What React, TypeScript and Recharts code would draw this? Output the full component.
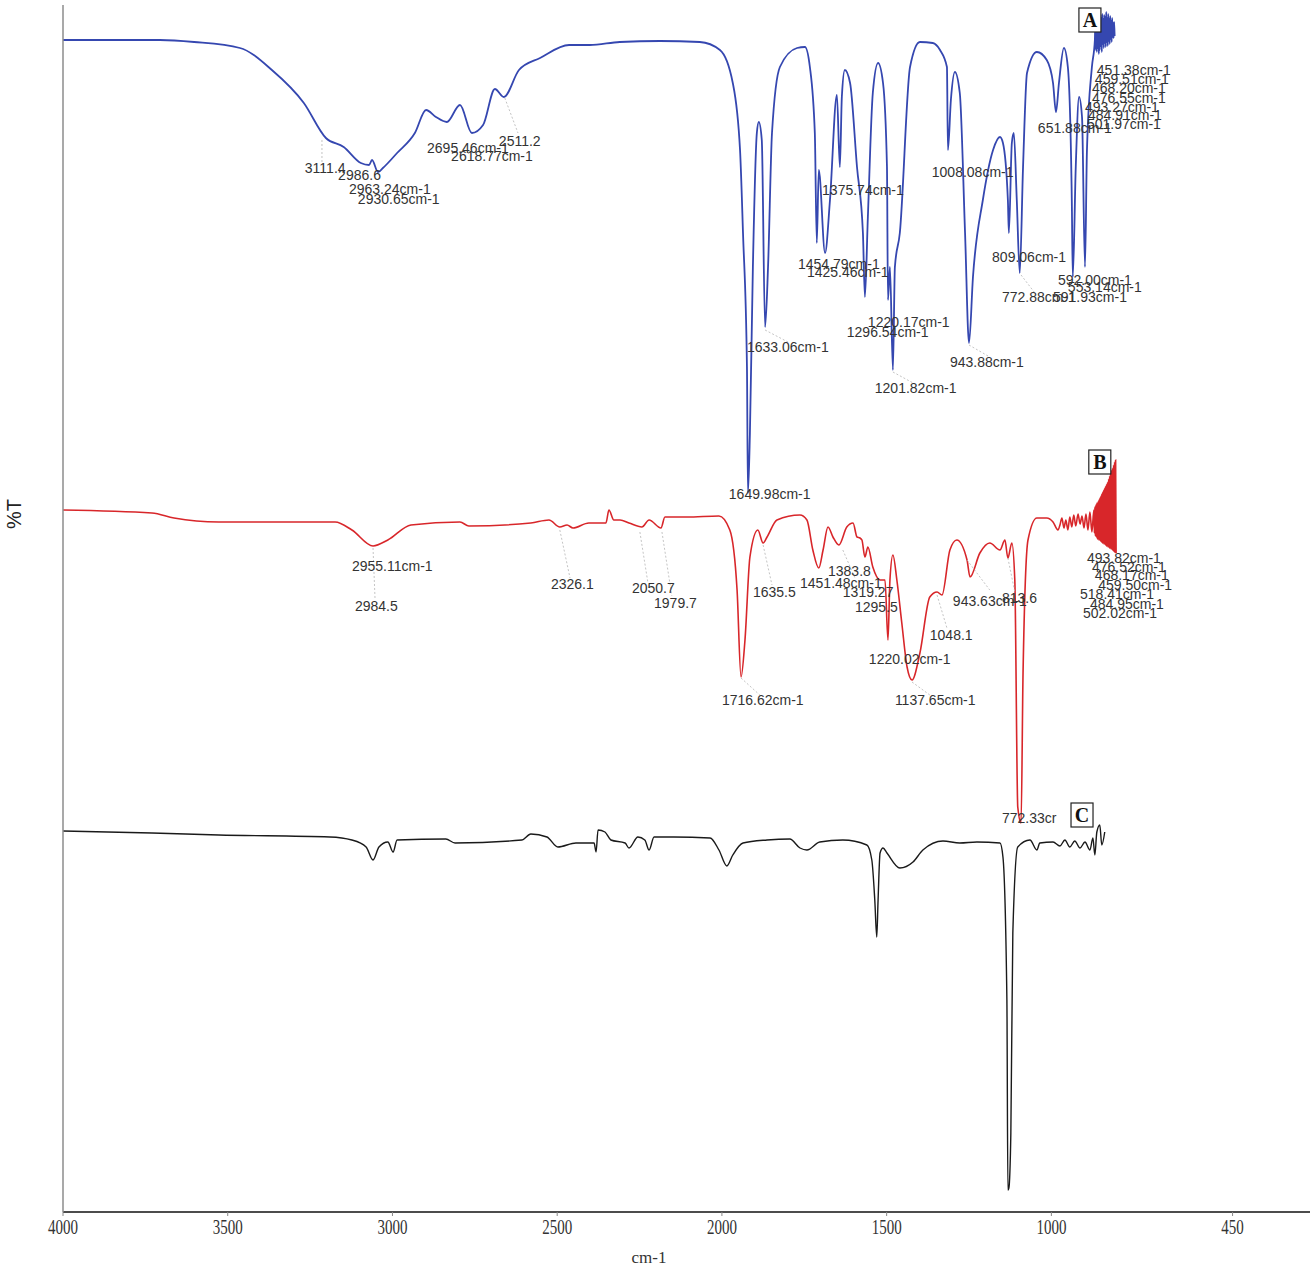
import {
  LineChart,
  Line,
  XAxis,
  YAxis,
  ReferenceDot,
  ReferenceLine,
} from "recharts";

// FTIR spectra: [wavenumber (cm-1), %T with a per-trace offset]
const spectrumA: [number, number][] = [
  [4000, 117.2], [3827, 117.2], [3706, 117.2], [3602, 117.0], [3463, 116.4],
  [3366, 114.2], [3269, 110.9], [3202, 107.4], [3148, 106.5], [3096, 104.9],
  [3071, 104.7], [3062, 105.2], [3044, 104.0], [3029, 104.4], [2986, 105.9],
  [2932, 107.9], [2898, 110.2], [2868, 109.5], [2835, 109.0], [2795, 110.7],
  [2759, 107.9], [2725, 108.7], [2689, 112.3], [2662, 111.5], [2616, 114.2],
  [2552, 115.4], [2464, 116.7], [2401, 116.7], [2310, 117.0], [2188, 117.1],
  [2067, 117.0], [2006, 116.2], [1967, 112.9], [1945, 106.2], [1936, 97.9],
  [1924, 84.5], [1921, 71.9], [1915, 77.9], [1906, 94.5], [1894, 107.9],
  [1888, 109.0], [1879, 107.2], [1869, 88.5], [1860, 94.5], [1848, 107.9],
  [1824, 114.5], [1772, 116.4], [1748, 116.5], [1733, 114.5], [1718, 107.9],
  [1712, 96.9], [1706, 104.2], [1687, 95.9], [1672, 101.2], [1651, 111.7],
  [1642, 104.5], [1636, 111.5], [1627, 114.2], [1611, 112.9], [1590, 104.5],
  [1572, 97.9], [1566, 91.5], [1557, 99.5], [1542, 111.9], [1526, 114.9],
  [1511, 112.9], [1499, 104.5], [1496, 91.2], [1490, 94.5], [1481, 84.2],
  [1475, 94.5], [1460, 97.9], [1429, 114.5], [1399, 117.0], [1360, 116.9],
  [1338, 116.2], [1317, 114.5], [1314, 106.2], [1305, 111.2], [1293, 114.0],
  [1278, 111.9], [1262, 97.9], [1250, 86.9], [1238, 93.5], [1208, 101.2],
  [1177, 106.2], [1156, 107.5], [1147, 106.9], [1132, 101.2], [1129, 97.9],
  [1120, 106.9], [1114, 107.9], [1105, 101.2], [1096, 93.9], [1086, 104.5],
  [1074, 113.9], [1044, 116.0], [1014, 115.2], [995, 112.9], [986, 110.0],
  [977, 112.9], [962, 116.4], [950, 114.5], [938, 101.2], [935, 93.5],
  [926, 104.5], [916, 111.5], [907, 109.5], [898, 94.5], [892, 106.2],
  [877, 114.5], [868, 117.2], [866.5, 119.0], [865, 116.2], [863.5, 119.4],
  [862, 116.0], [860.5, 118.8], [859, 116.4], [857.5, 119.6], [856, 115.8],
  [854.5, 119.2], [853, 116.2], [851.5, 119.7], [850, 116.6], [848.5, 119.4],
  [847, 116.0], [845.5, 119.8], [844, 116.8], [842.5, 119.3], [841, 116.4],
  [839.5, 119.7], [838, 116.9], [836.5, 119.5], [835, 116.5], [833.5, 120.0],
  [832, 117.0], [830.5, 119.4], [829, 116.6], [827.5, 119.8], [826, 117.1],
  [824.5, 119.3], [823, 116.8], [821.5, 119.6], [820, 117.3], [818.5, 119.1],
  [817, 117.0], [815.5, 119.4], [814, 117.5], [812.5, 118.9], [811, 117.4],
  [809.5, 119.0], [808, 117.6],
];

const spectrumB: [number, number][] = [
  [4000, 70.2], [3730, 69.9], [3663, 69.4], [3527, 69.0], [3174, 69.0],
  [3123, 68.2], [3059, 66.6], [3014, 67.2], [2944, 68.7], [2795, 69.0],
  [2768, 68.6], [2580, 68.9], [2525, 69.2], [2492, 68.5], [2470, 68.7],
  [2452, 68.4], [2404, 68.9], [2352, 68.9], [2343, 70.2], [2328, 69.2],
  [2309, 69.2], [2282, 68.9], [2243, 68.5], [2221, 69.2], [2185, 68.4],
  [2173, 69.5], [2106, 69.5], [2009, 69.6], [1976, 68.2], [1954, 62.2],
  [1942, 53.5], [1930, 57.2], [1915, 65.5], [1891, 68.2], [1875, 66.9],
  [1863, 67.5], [1833, 69.2], [1763, 69.7], [1742, 69.2], [1724, 66.2],
  [1706, 64.4], [1693, 66.2], [1678, 68.5], [1663, 67.5], [1645, 66.7],
  [1621, 68.5], [1602, 68.9], [1590, 67.5], [1581, 67.4], [1575, 67.2],
  [1566, 65.5], [1557, 66.5], [1542, 64.5], [1520, 63.2], [1505, 63.2],
  [1496, 57.2], [1490, 63.2], [1481, 65.7], [1469, 63.2], [1454, 58.9],
  [1438, 54.5], [1423, 53.2], [1399, 55.9], [1369, 61.5], [1347, 62.0],
  [1332, 61.7], [1308, 66.2], [1287, 67.2], [1256, 65.2], [1247, 63.5],
  [1217, 65.9], [1187, 66.9], [1156, 66.2], [1141, 67.2], [1132, 65.4],
  [1120, 66.9], [1111, 63.2], [1102, 40.5], [1092, 38.9], [1086, 53.9],
  [1071, 67.2], [1044, 69.4], [1014, 69.4], [995, 69.0], [980, 68.2],
  [974, 68.7], [968, 69.4], [962, 68.4], [956, 69.2], [950, 68.2],
  [944, 69.5], [938, 68.5], [932, 69.7], [926, 68.6], [919, 69.8],
  [913, 68.8], [907, 69.6], [901, 68.4], [895, 69.8], [889, 68.2],
  [883, 70.0], [877, 68.0], [871, 70.2], [869.5, 67.9], [868, 70.5],
  [866.5, 67.6], [865, 70.7], [863.5, 67.5], [862, 70.9], [860.5, 67.3],
  [859, 71.0], [857.5, 67.2], [856, 71.2], [854.5, 67.2], [853, 71.4],
  [851.5, 67.1], [850, 71.6], [848.5, 67.0], [847, 71.8], [845.5, 66.9],
  [844, 72.0], [842.5, 66.8], [841, 72.2], [839.5, 66.8], [838, 72.4],
  [836.5, 66.7], [835, 72.6], [833.5, 66.6], [832, 72.8], [830.5, 66.5],
  [829, 73.0], [827.5, 66.5], [826, 73.3], [824.5, 66.4], [823, 73.6],
  [821.5, 66.3], [820, 73.9], [818.5, 66.3], [817, 74.2], [815.5, 66.2],
  [814, 74.4], [812.5, 66.1], [811, 74.7], [809.5, 66.0], [808, 75.0],
  [806.5, 65.9], [805, 75.2], [803.5, 65.9],
];

const spectrumC: [number, number][] = [
  [4000, 38.1], [3730, 37.9], [3527, 37.7], [3190, 37.5], [3123, 37.2],
  [3080, 36.5], [3059, 35.2], [3041, 36.5], [3014, 37.0], [2998, 36.0],
  [2986, 37.2], [2838, 37.3], [2810, 36.9], [2607, 37.2], [2580, 37.8],
  [2531, 37.5], [2498, 36.5], [2443, 36.9], [2388, 36.9], [2382, 36.0],
  [2376, 38.2], [2355, 38.0], [2337, 37.2], [2294, 36.9], [2282, 36.4],
  [2255, 37.5], [2234, 37.2], [2221, 36.2], [2206, 37.5], [2146, 37.5],
  [2036, 37.4], [2009, 36.2], [1985, 34.6], [1967, 35.7], [1936, 36.9],
  [1863, 37.2], [1794, 37.3], [1763, 36.4], [1742, 36.2], [1703, 37.0],
  [1633, 37.2], [1560, 36.7], [1545, 35.2], [1536, 31.2], [1530, 27.5],
  [1526, 31.2], [1520, 35.9], [1511, 36.4], [1499, 35.9], [1460, 34.4],
  [1420, 35.0], [1390, 36.2], [1329, 37.1], [1278, 36.9], [1226, 37.0],
  [1156, 36.9], [1147, 35.5], [1135, 21.2], [1132, 2.2], [1129, 2.4],
  [1123, 7.9], [1117, 27.9], [1102, 36.5], [1065, 37.2], [1044, 36.2],
  [1035, 36.9], [995, 37.0], [974, 36.6], [959, 37.2], [944, 36.5],
  [929, 37.1], [913, 36.4], [898, 37.0], [883, 36.2], [874, 37.4],
  [868, 35.7], [862, 38.0], [853, 38.7], [847, 36.7], [838, 38.0],
];

const xTicks = [4000, 3500, 3000, 2500, 2000, 1500, 1000, 450];

// peak annotations: [text, wavenumber at text start, %T at text middle]
const peaksA: [string, number, number][] = [
  ["3111.4", 3266, 104.4],
  ["2986.6", 3165, 103.7],
  ["2963.24cm-1", 3132, 102.3],
  ["2930.65cm-1", 3105, 101.3],
  ["2695.46cm-1", 2895, 106.4],
  ["2618.77cm-1", 2822, 105.6],
  ["2511.2", 2677, 107.1],
  ["1633.06cm-1", 1924, 86.5],
  ["1649.98cm-1", 1979, 71.8],
  ["1454.79cm-1", 1769, 94.8],
  ["1425.46cm-1", 1742, 94.0],
  ["1375.74cm-1", 1696, 102.2],
  ["1220.17cm-1", 1557, 89.0],
  ["1296.54cm-1", 1621, 88.0],
  ["1201.82cm-1", 1536, 82.4],
  ["1008.08cm-1", 1363, 104.0],
  ["943.88cm-1", 1308, 85.0],
  ["809.06cm-1", 1180, 95.5],
  ["772.88cm-1", 1150, 91.5],
  ["591.93cm-1", 995, 91.5],
  ["592.00cm-1", 980, 93.2],
  ["553.14cm-1", 950, 92.5],
  ["651.88cm-1", 1041, 108.4],
  ["451.38cm-1", 862, 114.2],
  ["459.51cm-1", 868, 113.3],
  ["468.20cm-1", 877, 112.4],
  ["476.55cm-1", 877, 111.4],
  ["493.27cm-1", 898, 110.5],
  ["484.91cm-1", 889, 109.7],
  ["501.97cm-1", 892, 108.8],
];

const peaksB: [string, number, number][] = [
  ["2955.11cm-1", 3123, 64.6],
  ["2984.5", 3114, 60.6],
  ["2326.1", 2519, 62.8],
  ["2050.7", 2273, 62.4],
  ["1979.7", 2206, 60.9],
  ["1635.5", 1906, 62.0],
  ["1451.48cm-1", 1763, 62.9],
  ["1383.8", 1678, 64.1],
  ["1319.27", 1633, 62.0],
  ["1295.5", 1596, 60.5],
  ["1220.02cm-1", 1554, 55.3],
  ["1137.65cm-1", 1475, 51.2],
  ["1048.1", 1369, 57.7],
  ["943.63cm-1", 1299, 61.1],
  ["813.6", 1150, 61.4],
  ["1716.62cm-1", 2000, 51.2],
  ["772.33cr", 1150, 39.4],
  ["493.82cm-1", 892, 65.4],
  ["476.52cm-1", 877, 64.5],
  ["468.17cm-1", 868, 63.7],
  ["459.50cm-1", 858, 62.7],
  ["518.41cm-1", 913, 61.8],
  ["484.95cm-1", 883, 60.8],
  ["502.02cm-1", 904, 59.9],
];

// leader lines from peak to its label: [wn1, t1, wn2, t2]
const leaders: [number, number, number, number][] = [
  [3214, 107.2, 3214, 105.0],
  [2659, 111.4, 2619, 107.9],
  [1869, 88.2, 1794, 86.9],
  [1481, 84.0, 1414, 82.8],
  [1250, 86.7, 1187, 85.5],
  [1092, 93.7, 1050, 91.9],
  [3059, 66.4, 3053, 61.4],
  [2492, 68.2, 2461, 63.4],
  [2249, 68.0, 2225, 63.0],
  [2182, 68.0, 2152, 61.6],
  [1875, 66.7, 1848, 62.7],
  [1942, 53.4, 1885, 51.7],
  [1423, 53.0, 1369, 51.7],
  [1347, 61.7, 1317, 58.4],
  [1633, 66.2, 1596, 63.4],
  [1256, 65.2, 1187, 62.2],
  [1132, 65.4, 1111, 62.0],
];

const panelTags: [string, number, number][] = [
  ["A", 883, 119.2],
  ["B", 853, 75.0],
  ["C", 907, 39.7],
];

const toRows = (s: [number, number][]) => s.map(([wn, t]) => ({ wn, t }));

const serif = '"Liberation Serif", "Times New Roman", serif';
const sans = '"Liberation Sans", Arial, sans-serif';

function XTick(props: any) {
  const { x, y, payload } = props;
  const s = String(payload.value);
  return (
    <text
      x={x}
      y={y + 16}
      textAnchor="middle"
      fontFamily={serif}
      fontSize={21}
      fill="#333"
      textLength={s.length * 7.5}
      lengthAdjust="spacingAndGlyphs"
    >
      {s}
    </text>
  );
}

const peakShape = (text: string) => (p: any) => (
  <text x={p.cx} y={p.cy} dy="0.35em" fontSize={14} fill="#333" fontFamily={sans}>
    {text}
  </text>
);

const tagShape = (text: string) => (p: any) => (
  <g>
    <rect x={p.cx - 11} y={p.cy - 12} width={22} height={24} fill="#fff" stroke="#222" strokeWidth={1.2} />
    <text x={p.cx} y={p.cy} dy="0.36em" textAnchor="middle" fontFamily={serif} fontWeight="bold" fontSize={20} fill="#111">
      {text}
    </text>
  </g>
);

export default function App() {
  const rowsA = toRows(spectrumA);
  const rowsB = toRows(spectrumB);
  const rowsC = toRows(spectrumC);

  return (
    <div style={{ position: "absolute", left: 0, top: 0, background: "#fff" }}>
      <LineChart width={1316} height={1268} margin={{ top: 5, right: 6, bottom: 0, left: 0 }}>
        <XAxis
          type="number"
          dataKey="wn"
          domain={[215, 4000]}
          reversed
          allowDataOverflow
          ticks={xTicks}
          interval={0}
          height={56}
          axisLine={{ stroke: "#111", strokeWidth: 1.6 }}
          tickLine={{ stroke: "#888" }}
          tickSize={4}
          tick={<XTick />}
          label={{
            content: () => (
              <text x={649} y={1263} textAnchor="middle" fontFamily={serif} fontSize={17} fill="#333">
                cm-1
              </text>
            ),
          }}
        />
        <YAxis
          type="number"
          domain={[0, 120.7]}
          allowDataOverflow
          width={63}
          tick={false}
          tickLine={false}
          axisLine={{ stroke: "#8c8c8c", strokeWidth: 1.5 }}
          label={{
            content: () => (
              <text
                x={14}
                y={514}
                textAnchor="middle"
                dominantBaseline="central"
                transform="rotate(-90 14 514)"
                fontFamily={sans}
                fontSize={20}
                fill="#222"
              >
                %T
              </text>
            ),
          }}
        />
        <Line data={rowsA} dataKey="t" name="A" type="monotoneX" stroke="#3547b0" strokeWidth={1.8} dot={false} isAnimationActive={false} />
        <Line data={rowsB} dataKey="t" name="B" type="monotoneX" stroke="#d8262a" strokeWidth={1.6} dot={false} isAnimationActive={false} />
        <Line data={rowsC} dataKey="t" name="C" type="monotoneX" stroke="#1a1a1a" strokeWidth={1.4} dot={false} isAnimationActive={false} />
        {leaders.map(([w1, t1, w2, t2], i) => (
          <ReferenceLine
            key={`l${i}`}
            segment={[{ x: w1, y: t1 }, { x: w2, y: t2 }]}
            stroke="#b5b5b5"
            strokeWidth={0.8}
            strokeDasharray="2 2"
            ifOverflow="visible"
          />
        ))}
        {[...peaksA, ...peaksB].map(([text, wn, t], i) => (
          <ReferenceDot key={`p${i}`} x={wn} y={t} r={0} ifOverflow="visible" shape={peakShape(text)} />
        ))}
        {panelTags.map(([text, wn, t]) => (
          <ReferenceDot key={text} x={wn} y={t} r={0} ifOverflow="visible" shape={tagShape(text)} />
        ))}
      </LineChart>
    </div>
  );
}
